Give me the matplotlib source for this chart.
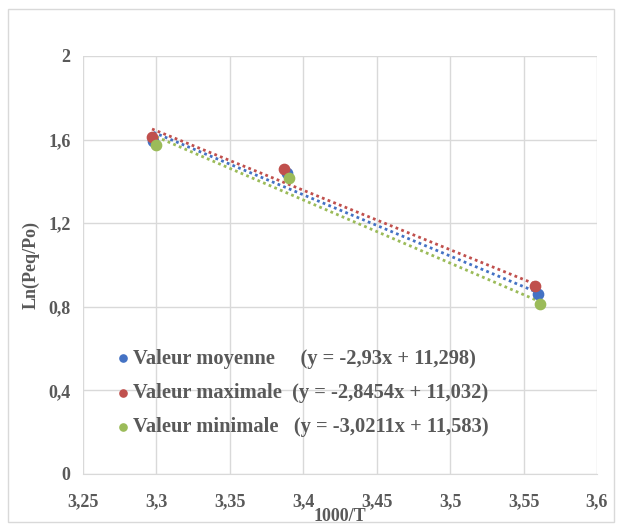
import matplotlib
matplotlib.use("Agg")
import matplotlib.pyplot as plt
import numpy as np
from matplotlib.ticker import FuncFormatter
from matplotlib.patches import Rectangle

series_names = ["Valeur moyenne", "Valeur maximale", "Valeur minimale"]
equations = ["     (y = -2,93x + 11,298)", "  (y = -2,8454x + 11,032)", "   (y = -3,0211x + 11,583)"]
colors = ["#4472C4", "#C0504D", "#9BBB59"]
x_moy = [3.298, 3.389, 3.560]
y_moy = [1.593, 1.440, 0.861]
x_max = [3.297, 3.387, 3.558]
y_max = [1.612, 1.459, 0.900]
x_min = [3.300, 3.390, 3.561]
y_min = [1.574, 1.416, 0.813]
slopes = [-2.93, -2.8454, -3.0211]
intercepts = [11.298, 11.032, 11.583]
xticks = [3.25, 3.3, 3.35, 3.4, 3.45, 3.5, 3.55, 3.6]
yticks = [0, 0.4, 0.8, 1.2, 1.6, 2.0]

plt.rcParams['font.family'] = ['Liberation Serif', 'DejaVu Serif']
plt.rcParams['font.weight'] = 'bold'
gray = "#595959"

fig = plt.figure(figsize=(6.22, 5.31), dpi=100)
ax = fig.add_axes([83/622, 1-474/531, (597-83)/622, (474-56)/531])

xs = [x_moy, x_max, x_min]
ys = [y_moy, y_max, y_min]
handles = []
for i in range(3):
    xx = np.array(xs[i]); yy = np.array(ys[i])
    xl = np.array([xx.min(), xx.max()])
    ax.plot(xl, slopes[i]*xl + intercepts[i], linestyle=(0, (1, 1.2)), color=colors[i], lw=2.0, zorder=2)
for i in [0, 1, 2]:
    h = ax.scatter(xs[i], ys[i], s=55, color=colors[i], zorder=3 + (1 if i == 2 else 0),
                   label=series_names[i] + equations[i])
    handles.append(h)

ax.set_xlim(3.25, 3.6)
ax.set_ylim(0, 2)
ax.set_xticks(xticks)
ax.set_yticks(yticks)
fmt = FuncFormatter(lambda v, p: ("%g" % round(v, 2)).replace(".", ","))
ax.xaxis.set_major_formatter(fmt)
ax.yaxis.set_major_formatter(fmt)
ax.grid(True, color="#D9D9D9", lw=1)
ax.set_axisbelow(True)
for s in ["top", "right", "left"]:
    ax.spines[s].set_visible(False)
ax.spines["bottom"].set_color("#D9D9D9")
ax.tick_params(length=0, colors=gray, labelsize=13)
ax.tick_params(axis='x', pad=14)
ax.tick_params(axis='y', pad=9)
ax.set_xlabel("1000/T", fontsize=13, fontweight="bold", color=gray, labelpad=-2)
ax.set_ylabel("Ln(Peq/Po)", fontsize=13, fontweight="bold", color=gray, labelpad=6)

leg = ax.legend(handles=handles, loc="lower left", bbox_to_anchor=(0.01, 0.053),
                frameon=False, prop={"weight": "bold", "size": 14.8},
                handletextpad=-0.5, labelspacing=0.7, markerscale=0.7, borderpad=0.2)
for t in leg.get_texts():
    t.set_color(gray)

fig.patches.append(Rectangle((8/622, 9/531), (614-8)/622, (522-9)/531, transform=fig.transFigure,
                             fill=False, edgecolor="#D9D9D9", lw=1))
fig.savefig("out.png", dpi=100)
